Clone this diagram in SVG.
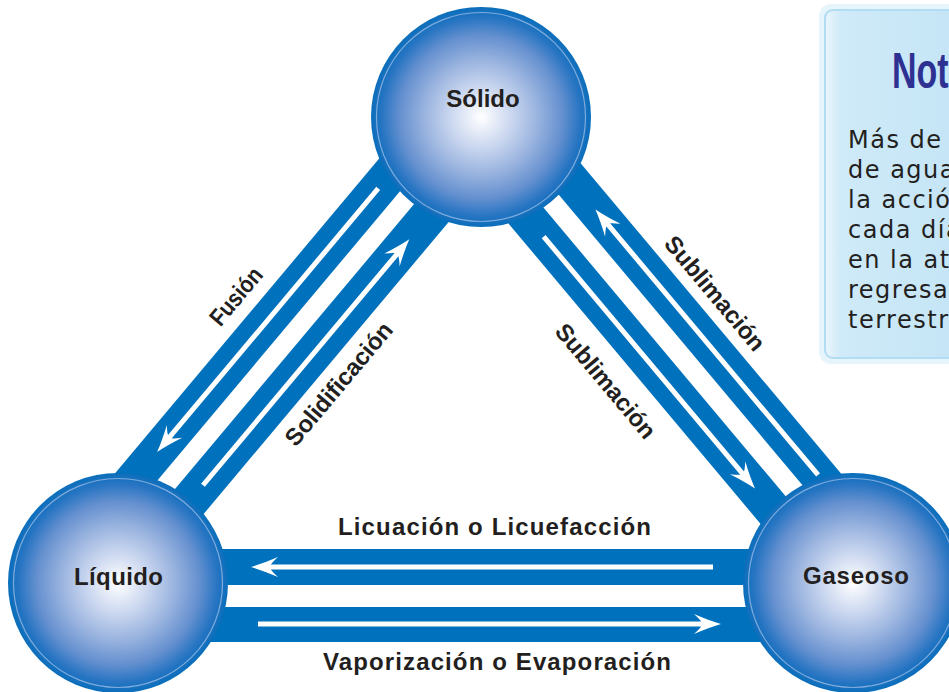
<svg xmlns="http://www.w3.org/2000/svg" width="949" height="692" viewBox="0 0 949 692">
<defs>
<radialGradient id="ball" cx="0.5" cy="0.5" r="0.5">
<stop offset="0" stop-color="#ffffff"/>
<stop offset="0.25" stop-color="#d0dbf1"/>
<stop offset="0.5" stop-color="#9db6e0"/>
<stop offset="0.74" stop-color="#6590cf"/>
<stop offset="0.9" stop-color="#2875c3"/>
<stop offset="1" stop-color="#0a6ebb"/>
</radialGradient>
<linearGradient id="noteG" x1="0" y1="0" x2="1" y2="0">
<stop offset="0" stop-color="#eaf6fc"/>
<stop offset="0.12" stop-color="#cfeaf8"/>
<stop offset="1" stop-color="#c4e5f6"/>
</linearGradient>
<marker id="ah" markerUnits="userSpaceOnUse" viewBox="-28 -11 30 22" markerWidth="30" markerHeight="22" refX="-18" refY="0" orient="auto" overflow="visible">
<path d="M0,0 Q-12,-3.5 -27,-10 Q-21,-4.5 -20,-2.5 L-20,2.5 Q-21,4.5 -27,10 Q-12,3.5 0,0 Z" fill="#ffffff"/>
</marker>
<style>
.bar{fill:#0071bc}
.flow{stroke:#ffffff;stroke-width:5;fill:none;marker-end:url(#ah)}
.ball{fill:url(#ball)}
.ring{fill:none;stroke:#7fabdd;stroke-width:1.2}
.lbl{font-family:"Liberation Sans",Arial,sans-serif;font-weight:bold;font-size:24px;fill:#231f20}
.note{font-family:"DejaVu Sans",sans-serif;font-size:24px;fill:#231f20;letter-spacing:1.5px}
.title{font-family:"Liberation Sans",Arial,sans-serif;font-weight:bold;font-size:50px;fill:#2e3192}
</style>
</defs>
<rect width="949" height="692" fill="#ffffff"/>
<g id="note">
<rect x="819" y="4" width="140" height="360" rx="12" fill="#e6f4fb"/>
<rect x="825" y="10" width="134" height="348" rx="8" fill="url(#noteG)" stroke="#b2dcf2" stroke-width="2"/>
<text class="title" transform="translate(892,88) scale(0.68,1)">Nota</text>
<text class="note" x="848" y="148">Más de u</text>
<text class="note" x="848" y="178">de agua</text>
<text class="note" x="848" y="208">la acción</text>
<text class="note" x="848" y="238">cada día</text>
<text class="note" x="848" y="268">en la atm</text>
<text class="note" x="848" y="298">regresan</text>
<text class="note" x="848" y="328">terrestre</text>
</g>
<g id="connectors">
<rect class="bar" x="118" y="549" width="735" height="36"/>
<rect class="bar" x="118" y="607" width="735" height="35"/>
<line class="flow" x1="713" y1="567" x2="269" y2="567"/>
<line class="flow" x1="258" y1="624" x2="703" y2="624"/>
<text class="lbl" x="494.5" y="535" text-anchor="middle" textLength="313">Licuación o Licuefacción</text>
<text class="lbl" x="497" y="670" text-anchor="middle" textLength="348">Vaporización o Evaporación</text>
<g transform="translate(271.5,360) rotate(-50)">
<rect class="bar" x="-275" y="-47" width="600" height="37"/>
<rect class="bar" x="-275" y="9" width="600" height="38"/>
<line class="flow" x1="200" y1="-28.5" x2="-126" y2="-28.5"/>
<line class="flow" x1="-140" y1="28" x2="163" y2="28"/>
<text class="lbl" x="26" y="-60" text-anchor="middle" textLength="68" lengthAdjust="spacingAndGlyphs">Fusión</text>
<text class="lbl" x="25" y="75" text-anchor="middle" textLength="153">Solidificación</text>
</g>
<g transform="translate(684.4,360) rotate(50)">
<rect class="bar" x="-320" y="-47" width="600" height="37"/>
<rect class="bar" x="-320" y="10" width="600" height="37"/>
<line class="flow" x1="174" y1="-28.5" x2="-154.4" y2="-28.5"/>
<line class="flow" x1="-185" y1="28.5" x2="125.7" y2="28.5"/>
<text class="lbl" x="-31.4" y="-58" text-anchor="middle" textLength="142">Sublimación</text>
<text class="lbl" x="-34.5" y="82" text-anchor="middle" textLength="142">Sublimación</text>
</g>
</g>
<g id="solido">
<circle class="ball" cx="481" cy="117" r="110"/>
<circle class="ring" cx="481" cy="117" r="104.5"/>
<text class="lbl" x="483" y="107" text-anchor="middle">Sólido</text>
</g>
<g id="liquido">
<circle class="ball" cx="118" cy="583" r="110"/>
<circle class="ring" cx="118" cy="583" r="104.5"/>
<text class="lbl" x="118.5" y="585" text-anchor="middle" textLength="89">Líquido</text>
</g>
<g id="gaseoso">
<circle class="ball" cx="853" cy="583" r="110"/>
<circle class="ring" cx="853" cy="583" r="104.5"/>
<text class="lbl" x="856" y="584" text-anchor="middle" textLength="106">Gaseoso</text>
</g>
</svg>
